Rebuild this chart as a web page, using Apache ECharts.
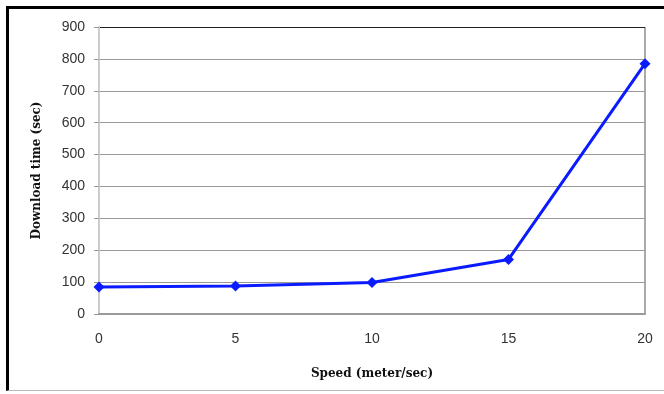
<!DOCTYPE html>
<html>
<head>
<meta charset="utf-8">
<script src="https://cdn.jsdelivr.net/npm/echarts@6/dist/echarts.min.js"></script>
<style>
  html, body { margin: 0; padding: 0; background: #fff; }
  #frame {
    position: absolute; left: 6px; top: 6px; width: 658px; height: 385px;
    border-top: 3px solid #000; border-left: 3px solid #000;
    border-bottom: 1px solid #bbb; box-sizing: border-box;
  }
  #chart { position: absolute; left: 0; top: 0; width: 664px; height: 394px; }
</style>
</head>
<body>
<div id="frame"></div>
<div id="chart"></div>
<script>
const speeds = [0, 5, 10, 15, 20];
const downloadTimes = [85, 88, 99, 171, 785];
const yTicks = [0, 900, 100];

const chartDom = document.getElementById("chart");
const myChart = echarts.init(chartDom);

const gridColors = ["#999", "#999", "#999", "#999", "#999", "#999", "#999", "#999", "#999", "#222"];

const option = {
  animation: false,
  grid: { left: 99, right: 19, top: 27, bottom: 80 },
  xAxis: {
    type: "value",
    min: 0,
    max: 20,
    interval: 5,
    name: "Speed (meter/sec)",
    nameLocation: "middle",
    nameGap: 54,
    nameTextStyle: { fontFamily: "DejaVu Serif", fontWeight: "bold", fontSize: 12, color: "#111" },
    axisLine: { lineStyle: { color: "#999", width: 2 } },
    axisTick: { show: false },
    splitLine: { show: false },
    axisLabel: { margin: 18, fontFamily: "Liberation Sans", fontSize: 14, color: "#333" },
  },
  yAxis: {
    type: "value",
    min: yTicks[0],
    max: yTicks[1],
    interval: yTicks[2],
    name: "Download time (sec)",
    nameLocation: "middle",
    nameGap: 56,
    nameTextStyle: { fontFamily: "DejaVu Serif", fontWeight: "bold", fontSize: 12, color: "#111" },
    axisLine: { show: true, lineStyle: { color: "#ccc", width: 2 } },
    axisTick: { show: true, length: 5, inside: false, lineStyle: { color: "#999" } },
    splitLine: { lineStyle: { color: gridColors, width: 1 } },
    axisLabel: { margin: 14, fontFamily: "Liberation Sans", fontSize: 14, color: "#333" },
  },
  graphic: [
    {
      type: "line",
      shape: { x1: 645, y1: 27, x2: 645, y2: 314 },
      style: { stroke: "#aaa", lineWidth: 2 },
    },
  ],
  series: [
    {
      type: "line",
      data: speeds.map((s, i) => [s, downloadTimes[i]]),
      symbol: "diamond",
      symbolSize: 11,
      lineStyle: { color: "#0a1cff", width: 3 },
      itemStyle: { color: "#0a1cff" },
      emphasis: { disabled: true },
    },
  ],
};

option && myChart.setOption(option);
</script>
</body>
</html>
